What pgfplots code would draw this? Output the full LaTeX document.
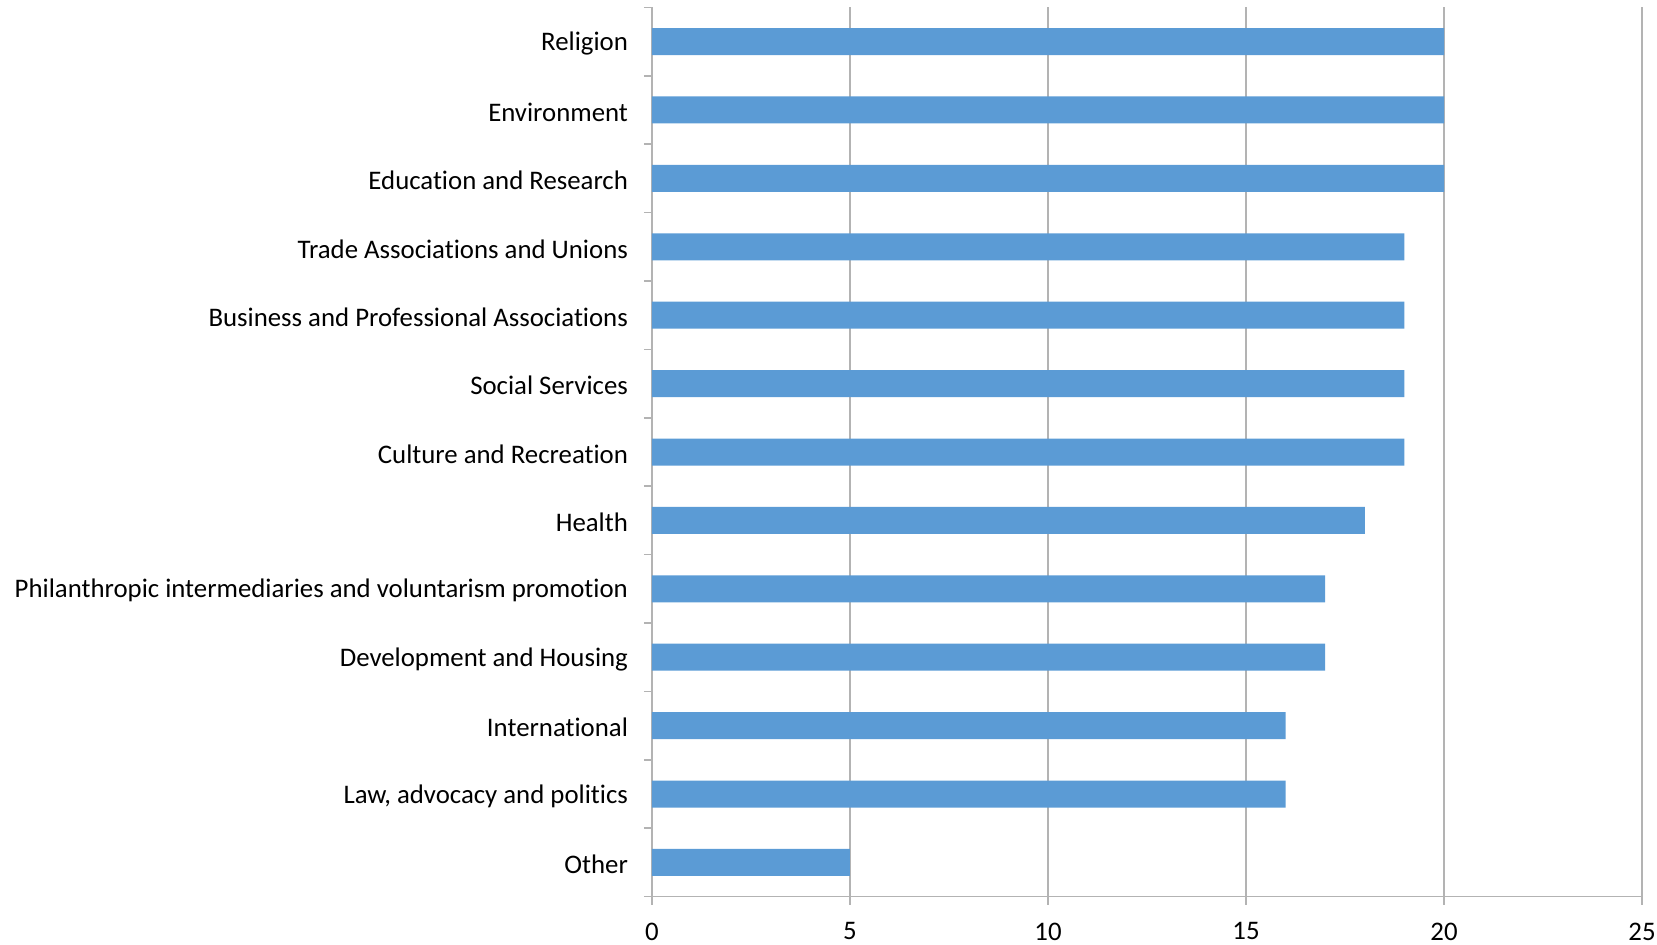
\documentclass[border=0pt]{standalone}
\usepackage{pgfplots}
\pgfplotsset{compat=1.18}
\usepackage{fontspec}
\setmainfont[Ligatures={NoCommon}]{Carlito}
\definecolor{barblue}{HTML}{5B9BD5}
\definecolor{gridgray}{HTML}{B3B3B3}
\begin{document}
\begin{tikzpicture}
\begin{axis}[
  at={(0,0)}, anchor=south west,
  scale only axis,
  width=495pt, height=444.6pt,
  xbar,
  bar width=13.5pt,
  xmin=0, xmax=25,
  ymin=-0.5, ymax=12.5,
  xtick={0,5,...,25},
  ytick={0,...,12},
  yticklabels={Other,{Law, advocacy and politics},International,Development and Housing,Philanthropic intermediaries and voluntarism promotion,Health,Culture and Recreation,Social Services,Business and Professional Associations,Trade Associations and Unions,Education and Research,Environment,Religion},
  minor ytick={-0.5,0.5,...,12.5},
  axis x line*=bottom,
  axis y line*=left,
  axis line style={gridgray, line width=0.8pt},
  xmajorgrids,
  grid style={gridgray, line width=0.8pt},
  tick align=outside,
  xtick style={gridgray, line width=0.8pt},
  major tick length=4pt,
  minor tick length=4pt,
  ytick style={draw=none},
  minor y tick style={draw=gridgray, line width=0.8pt},
  tick label style={font=\fontsize{13.4}{15}\selectfont, text=black},
  yticklabel style={xshift=-4.5pt, yshift=-1pt},
  xticklabel style={yshift=-5.5pt},
  /pgf/number format/assume math mode=true,
]
\addplot[fill=barblue, draw=none] coordinates {
(5,0) (16,1) (16,2) (17,3) (17,4) (18,5) (19,6) (19,7) (19,8) (19,9) (20,10) (20,11) (20,12)
};
\end{axis}
\pgfresetboundingbox
\path[use as bounding box] (-326pt,-23.7pt) rectangle (502.5pt,448.3pt);
\end{tikzpicture}
\end{document}
